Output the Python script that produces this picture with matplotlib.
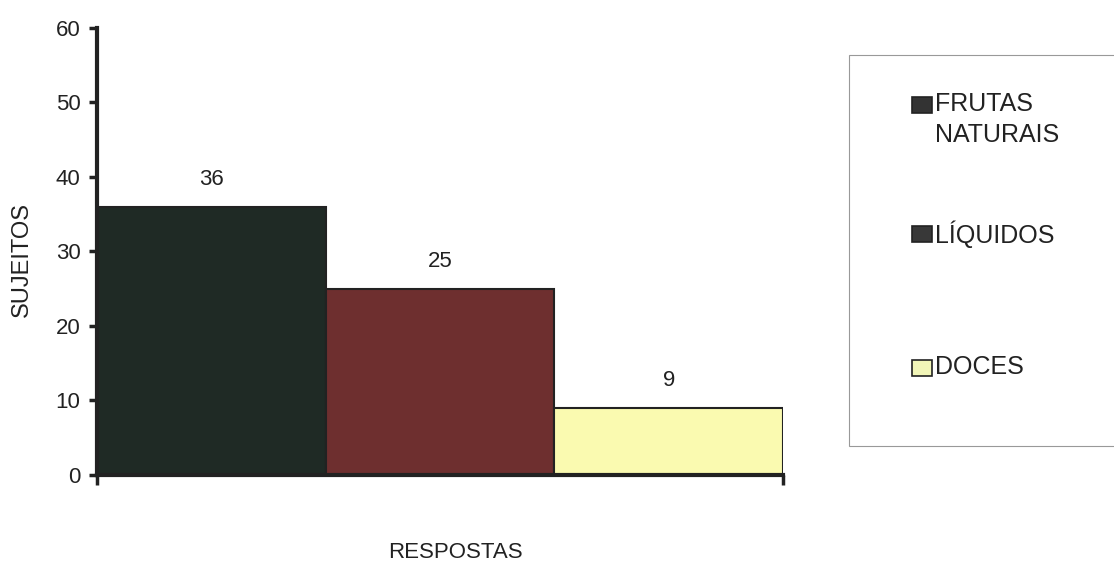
import matplotlib.pyplot as plt
from matplotlib.patches import Rectangle

plt.rcParams['font.family'] = ['Liberation Sans', 'DejaVu Sans']

# dados
categorias = ["FRUTAS\nNATURAIS", "LÍQUIDOS", "DOCES"]
valores = [36, 25, 9]
cores = ["#1f2a25", "#6e2f2f", "#fafab0"]
cores_legenda = ["#333333", "#383838", "#f2f6b8"]
y_ticks = [0, 10, 20, 30, 40, 50, 60]

fig = plt.figure(figsize=(11.14, 5.66), dpi=100)
ax = fig.add_axes([0.0871, 0.1608, 0.6158, 0.7898])

x = list(range(len(valores)))
bars = ax.bar(x, valores, width=1.0, align='edge', color=cores,
              edgecolor="#222222", linewidth=1.5)

for b, v in zip(bars, valores):
    ax.text(b.get_x() + b.get_width() / 2, v + 3.7, str(v),
            ha='center', va='center', fontsize=16, color="#222222")

ax.set_xlim(0, len(valores))
ax.set_ylim(0, 60)
ax.set_yticks(y_ticks)
ax.set_xticks([0, len(valores)])
ax.set_xticklabels([])

for s in ['top', 'right']:
    ax.spines[s].set_visible(False)
ax.spines['left'].set_linewidth(3)
ax.spines['bottom'].set_linewidth(3)
ax.spines['left'].set_color("#222222")
ax.spines['bottom'].set_color("#222222")

ax.tick_params(axis='y', direction='out', length=6, width=2.5, pad=6,
               labelsize=16, colors="#222222")
ax.tick_params(axis='x', direction='out', length=7, width=2.5, colors="#222222")

fig.text(0.020, 0.542, "SUJEITOS", rotation=90, ha='center', va='center',
         fontsize=17, color="#222222")
fig.text(0.409, 0.023, "RESPOSTAS", ha='center', va='center',
         fontsize=16, color="#222222")

# legenda
fig.patches.append(Rectangle((0.762, 0.212), 0.26, 0.691, transform=fig.transFigure,
                             facecolor='white', edgecolor="#999999", linewidth=0.8))
leg_y = [0.8145, 0.586, 0.350]
leg_top = [0.838, 0.610, 0.373]
for lbl, c, yy, yt in zip(categorias, cores_legenda, leg_y, leg_top):
    fig.patches.append(Rectangle((0.8187, yy - 0.0141), 0.018, 0.0283,
                                 transform=fig.transFigure, facecolor=c,
                                 edgecolor="#222222", linewidth=1.2))
    fig.text(0.839, yt, lbl, ha='left', va='top', fontsize=18,
             color="#222222", linespacing=1.4)

fig.savefig("out.png", dpi=100)
